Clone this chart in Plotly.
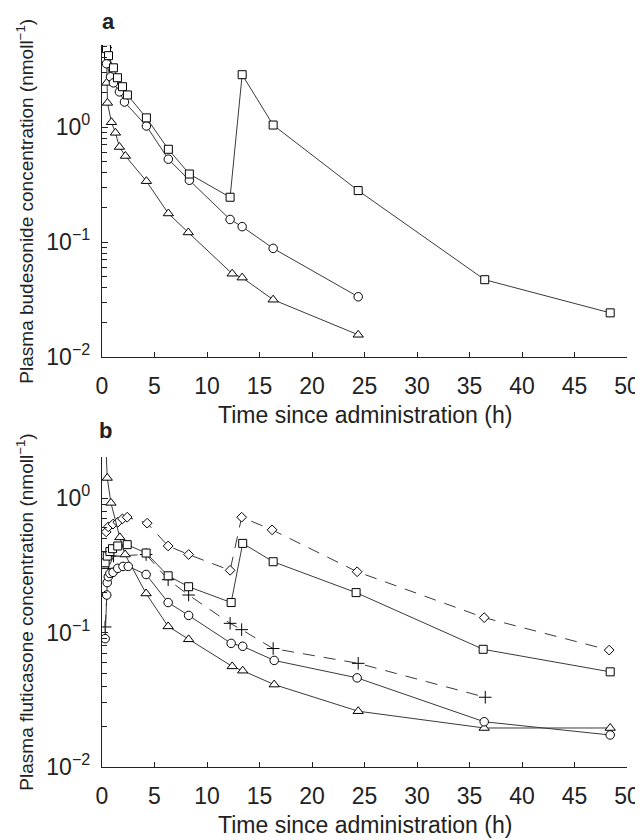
import plotly.graph_objects as go

# ---------------- Panel a: budesonide ----------------
a_sq_t = [0.43, 0.62, 1.09, 1.47, 1.95, 2.42, 4.23, 6.32, 8.32, 12.2, 13.35, 16.3, 24.4, 36.45, 48.4]
a_sq_c = [4.8, 4.17, 3.27, 2.68, 2.24, 1.90, 1.20, 0.64, 0.39, 0.245, 2.85, 1.04, 0.28, 0.047, 0.0242]

a_ci_t = [0.43, 0.81, 1.09, 1.66, 2.14, 4.23, 6.32, 8.32, 12.2, 13.35, 16.3, 24.4]
a_ci_c = [3.55, 2.73, 2.42, 2.02, 1.65, 1.02, 0.525, 0.344, 0.157, 0.136, 0.088, 0.0334]

a_tr_t = [0.43, 0.45, 0.52, 0.9, 1.28, 1.66, 2.23, 4.23, 6.32, 8.22, 12.4, 13.35, 16.3, 24.4]
a_tr_c = [5.1, 2.42, 1.62, 1.10, 0.89, 0.67, 0.56, 0.338, 0.177, 0.121, 0.053, 0.049, 0.0315, 0.0156]

# ---------------- Panel b: fluticasone ----------------
b_tr_t = [0.25, 0.5, 0.85, 1.7, 2.2, 4.2, 6.3, 8.25, 12.4, 13.4, 16.4, 24.4, 36.4, 48.4]
b_tr_c = [4.0, 1.41, 0.92, 0.51, 0.38, 0.195, 0.111, 0.089, 0.056, 0.052, 0.041, 0.026, 0.0195, 0.0195]

b_ci_t = [0.3, 0.45, 0.5, 0.6, 0.75, 1.05, 1.5, 2.0, 2.5, 4.2, 6.3, 8.25, 12.3, 13.4, 16.4, 24.3, 36.4, 48.4]
b_ci_c = [0.09, 0.19, 0.235, 0.26, 0.275, 0.28, 0.30, 0.31, 0.31, 0.27, 0.167, 0.134, 0.083, 0.079, 0.062, 0.046, 0.0217, 0.0173]

b_sq_t = [0.3, 0.5, 0.75, 1.0, 1.5, 2.4, 4.2, 6.3, 8.25, 12.3, 13.4, 16.3, 24.2, 36.3, 48.4]
b_sq_c = [0.33, 0.37, 0.40, 0.42, 0.44, 0.45, 0.39, 0.264, 0.219, 0.167, 0.46, 0.336, 0.198, 0.075, 0.051]

b_di_t = [0.4, 0.6, 1.05, 1.5, 1.95, 2.4, 4.3, 6.3, 8.25, 12.2, 13.3, 16.2, 24.3, 36.4, 48.3]
b_di_c = [0.56, 0.61, 0.64, 0.66, 0.70, 0.72, 0.65, 0.44, 0.38, 0.29, 0.72, 0.58, 0.283, 0.129, 0.074]

b_pl_t = [0.3, 0.6, 1.1, 4.2, 6.3, 8.25, 12.2, 13.3, 16.3, 24.4, 36.5]
b_pl_c = [0.11, 0.30, 0.37, 0.38, 0.247, 0.19, 0.117, 0.105, 0.076, 0.059, 0.033]

x_ticks = [0, 5, 10, 15, 20, 25, 30, 35, 40, 45, 50]
y_major = [0.01, 0.1, 1]
y_major_text = ["10<sup>\u22122</sup>", "10<sup>\u22121</sup>", "10<sup>0</sup>"]
y_minor = [m * 10.0 ** d for d in (-2, -1, 0) for m in range(2, 10)]

title_a_y = "Plasma budesonide concentration (nmoll<sup>\u22121</sup>)"
title_b_y = "Plasma fluticasone concentration (nmoll<sup>\u22121</sup>)"
title_x = "Time since administration (h)"

# page is 643x840; the html body adds an 8px margin, so the figure is drawn 8px in
PAGE_W, PAGE_H, OFF = 643, 840, 8
W, H = PAGE_W - OFF, PAGE_H - OFF
PLOT_L, PLOT_R, PLOT_T, PLOT_B = 101.5, 627.5, 45, 767   # page pixels
L, R, T, B = PLOT_L - OFF, PAGE_W - PLOT_R, PLOT_T - OFF, PAGE_H - PLOT_B
PH = PLOT_B - PLOT_T
PW = PLOT_R - PLOT_L


def py(p):
    return (PLOT_B - p) / PH


def px(p):
    return (p - PLOT_L) / PW


LINE = "#3a3a3a"
INK = "#222"


def series(x, y, sym, xa, ya, size=8, dash="solid", fill="white"):
    return go.Scatter(
        x=x, y=y, xaxis=xa, yaxis=ya, mode="lines+markers",
        line=dict(color=LINE, width=1, dash=dash),
        marker=dict(symbol=sym, size=size, color=fill,
                    line=dict(color="black", width=1)),
        showlegend=False,
    )


fig = go.Figure()
fig.add_trace(series(a_tr_t, a_tr_c, "triangle-up", "x", "y", 9))
fig.add_trace(series(a_ci_t, a_ci_c, "circle", "x", "y", 8.5))
fig.add_trace(series(a_sq_t, a_sq_c, "square", "x", "y", 8))

DASH = "12px,9px"
fig.add_trace(series(b_pl_t, b_pl_c, "cross-thin-open", "x2", "y2", 9, DASH, fill="black"))
fig.add_trace(series(b_di_t, b_di_c, "diamond", "x2", "y2", 7.5, DASH))
fig.add_trace(series(b_tr_t, b_tr_c, "triangle-up", "x2", "y2", 9))
fig.add_trace(series(b_ci_t, b_ci_c, "circle", "x2", "y2", 8.5))
fig.add_trace(series(b_sq_t, b_sq_c, "square", "x2", "y2", 8))


def yaxis_cfg(rng, dom, anchor):
    return dict(type="log", range=rng, domain=dom, anchor=anchor,
                tickmode="array", tickvals=y_major, ticktext=y_major_text,
                ticks="inside", ticklen=6, tickwidth=1, tickcolor=INK,
                minor=dict(tickmode="array", tickvals=y_minor, ticks="inside",
                           ticklen=5, tickwidth=1, tickcolor=INK, showgrid=False),
                showline=True, linecolor=INK, linewidth=1.3, showgrid=False,
                zeroline=False, tickfont=dict(size=23, color=INK),
                ticklabelstandoff=6)


def xaxis_cfg(anchor):
    return dict(range=[0, 50], domain=[0, 1], anchor=anchor, tickmode="array",
                tickvals=x_ticks, ticktext=[str(v) for v in x_ticks],
                ticks="inside", ticklen=5, tickwidth=1, tickcolor=INK,
                showline=True, linecolor=INK, linewidth=1.3, showgrid=False,
                zeroline=False, tickfont=dict(size=23, color=INK),
                ticklabelstandoff=8)


fig.update_layout(
    width=W, height=H,
    margin=dict(l=L, r=R, t=T, b=B, autoexpand=False),
    paper_bgcolor="white", plot_bgcolor="white",
    font=dict(family="Liberation Sans, Arial, sans-serif", color=INK),
    xaxis=xaxis_cfg("y"),
    yaxis=yaxis_cfg([-2, 0.713], [py(357), 1], "x"),
    xaxis2=xaxis_cfg("y2"),
    yaxis2=yaxis_cfg([-2, 0.305], [0, py(457)], "x2"),
)

ann = []
for yy in (415, 825):
    ann.append(dict(text=title_x, x=0.5, y=py(yy), xref="paper", yref="paper",
                    showarrow=False, font=dict(size=23), xanchor="center", yanchor="middle"))
for txt, yy in ((title_a_y, 201), (title_b_y, 612)):
    ann.append(dict(text=txt, x=px(24), y=py(yy), xref="paper", yref="paper",
                    showarrow=False, font=dict(size=19), textangle=-90,
                    xanchor="center", yanchor="middle"))
ann.append(dict(text="<b>a</b>", x=px(99), y=py(21), xref="paper", yref="paper",
                showarrow=False, font=dict(size=22), xanchor="left", yanchor="middle"))
ann.append(dict(text="<b>b</b>", x=px(96), y=py(430), xref="paper", yref="paper",
                showarrow=False, font=dict(size=22), xanchor="left", yanchor="middle"))
fig.update_layout(annotations=ann)

fig.write_html("out.html")
